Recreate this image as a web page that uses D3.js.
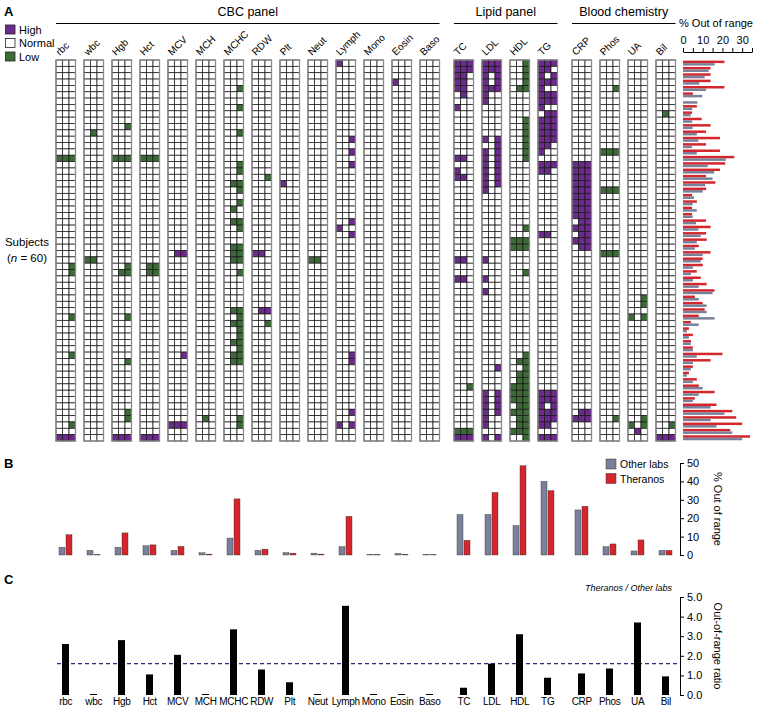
<!DOCTYPE html>
<html lang="en">
<head>
<meta charset="UTF-8">
<title>Out of range results</title>
<style>
  * { margin: 0; padding: 0; }
  html, body { overflow: hidden; background: #fff; }
  text { font-family: "Liberation Sans", Arial, sans-serif; }
</style>
</head>
<body>
<div id="chart"></div>
<script src="https://cdn.jsdelivr.net/npm/d3@7"></script>
<script>
// tests, in column order
const tests = ['rbc', 'wbc', 'Hgb', 'Hct', 'MCV', 'MCH', 'MCHC', 'RDW', 'Plt', 'Neut', 'Lymph', 'Mono', 'Eosin', 'Baso',
  'TC', 'LDL', 'HDL', 'TG', 'CRP', 'Phos', 'UA', 'Bil']
const panelNames = ['CBC panel', 'Lipid panel', 'Blood chemistry']
const panelFirst = [0, 14, 18]
const panelLast = [13, 17, 21]

// out-of-range cells per test: "row:abc" with one char per lab column (. normal, H high, L low)
const abnormal = [
  '15:LLL 32:..L 33:..L 40:..L 46:..L 57:..L 59:HHH',
  '11:.L. 31:LL.',
  '10:..L 15:LLL 32:..L 33:.LL 40:..L 47:..L 55:..L 56:..L 59:HHH',
  '15:LLL 32:.LL 33:.LL 59:HHH',
  '30:.HH 46:..H 57:HHH',
  '56:.L.',
  '4:..L 7:..L 11:..L 16:..L 17:..L 19:.LL 20:..L 22:..L 23:.L. 25:.LL 26:..L 29:.LL 30:.LL 31:.LL 33:..L 39:.LL 40:..L 41:.LL 42:..L 43:..L 44:.LL 45:..L 46:.LL 47:.LL 56:..L 57:..L',
  '18:..L 30:HH. 39:.HH 41:..L',
  '19:H..',
  '31:LL.',
  '0:H.. 12:..H 14:..H 16:..H 25:..H 26:H.. 27:..H 46:..H 47:..H 55:..H 57:H.H',
  '',
  '3:H..',
  '',
  '0:HHH 1:HHH 2:HH. 3:HH. 4:HH. 5:.H. 7:H.. 15:HH. 17:H.. 18:HH. 31:HH. 34:HH. 51:..L 58:LLL 59:HHH',
  '0:HHH 1:HHH 2:H.H 3:H.H 4:HHH 5:H.. 6:H.. 12:H.H 13:..H 14:H.H 15:H.H 16:H.H 17:H.H 18:H.H 19:H.H 20:H.. 31:H.. 34:H.. 36:H.. 48:..H 52:H.H 53:H.H 54:H.H 55:H.H 56:H.. 57:H.. 59:H.H',
  '0:..L 1:..L 2:..L 3:..L 4:.LL 9:..L 10:..L 11:..L 12:..L 13:..L 14:..L 15:..L 26:..L 28:LLL 29:LLL 33:..L 46:..L 47:.LL 48:..L 49:.LL 50:.LL 51:LLL 52:LLL 53:LLL 54:.LL 55:LLL 56:.LL 57:.LL 58:LLL 59:..L',
  '0:HHH 1:HH. 2:H.H 3:HHH 4:H.. 5:HHH 6:HHH 7:H.. 8:.HH 9:HHH 10:HHH 11:HHH 12:HHH 13:HH. 14:H.. 16:HHH 17:HH. 27:HH. 52:HHH 53:HHH 54:H.H 55:HHH 56:HHH 57:HH. 59:HHH',
  '16:HHH 17:HHH 18:HHH 19:HHH 20:HHH 21:HHH 22:HHH 23:HHH 24:HHH 25:.HH 26:HHH 27:.HH 28:HHH 29:.HH 55:.HH 56:HHH',
  '4:..L 14:LLL 20:LLL 30:LLL 56:..L',
  '37:..L 38:..L 40:L.L 56:..L 57:L.L 58:.H.',
  '8:.L. 57:..L 59:HHH'
]

// % out of range per subject (60 subjects, top to bottom)
const subjTheranos = [21, 14, 14, 14, 21, 5, 0, 7, 4.6, 9.5, 14, 11.7, 18.8, 11.7, 18.8, 26, 21.4, 18.8, 11.7, 16.4,
  11.7, 4.6, 7, 4.6, 4.6, 11.7, 14, 11.7, 12, 8, 14, 10, 10, 7, 9, 12, 16, 6, 10, 11,
  8, 4, 3, 5, 4, 5, 20, 14, 5, 3, 7, 8, 16, 6, 17, 25, 27, 30, 24, 34]
const subjOther = [16, 13, 11, 8.3, 11.7, 9.8, 7.3, 4.7, 3.9, 4.6, 4.9, 7, 7.8, 4.6, 7, 21.7, 12.5, 15.8, 15, 11.2,
  10, 5.6, 4.9, 7, 4.9, 6.6, 7.8, 9, 7, 6, 10, 9, 5, 4, 5, 8, 15, 8, 12, 12,
  16, 8, 2, 3, 4, 5, 7, 5, 4, 2, 5, 10, 8, 5, 14, 21, 14, 17, 25, 30]

// panel B: % out of range per test
const otherPct = [4.2, 2.5, 4.2, 5, 2.5, 1.2, 9.2, 2.5, 1.3, 1, 4.5, 0.3, 0.8, 0.3, 22, 22, 16, 40, 24.5, 4.5, 2.2, 2.5]
const theranosPct = [11, 0.3, 12, 5.5, 4.7, 0.5, 30.5, 3.2, 1, 0.5, 21, 0.3, 0.4, 0.2, 8, 34, 48.5, 35, 26.5, 6, 8.2, 2.5]

// panel C: Theranos / other labs ratio
const ratio = [2.6, 0, 2.8, 1.05, 2.05, 0, 3.35, 1.3, 0.65, 0, 4.55, 0, 0, 0, 0.37, 1.6, 3.1, 0.88, 1.1, 1.35, 3.7, 0.95]
const refRatio = 1.6

const colors = { H: '#6b2a8c', L: '#3d6b37', N: '#fff' }
const red = '#d4262c'
const grey = '#79809a'

function drawChart() {
  const svg = d3.select('#chart')
    .append('svg')
    .attr('width', 769)
    .attr('height', 712)

  const groupOf = i => i < 14 ? 0 : i < 18 ? 1 : 2
  const colX = i => 56 + i * 28 + groupOf(i) * 6
  const cellW = 6.5
  const nRows = 60

  const y = d3.scaleBand().domain(d3.range(nRows)).range([60, 441])

  // parse abnormal cells
  const state = tests.map((t, ti) => {
    const m = d3.range(nRows).map(() => ['N', 'N', 'N'])
    abnormal[ti].split(' ').filter(s => s).forEach(s => {
      const [r, p] = s.split(':')
      p.split('').forEach((c, k) => { if (c !== '.') m[+r][k] = c })
    })
    return m
  })

  const cells = []
  tests.forEach((t, ti) => {
    state[ti].forEach((row, r) => row.forEach((v, k) => cells.push({ ti, r, k, v })))
  })

  // panel letters
  svg.selectAll('text.letter')
    .data([['A', 16], ['B', 468], ['C', 584]])
    .join('text')
    .attr('class', 'letter')
    .attr('x', 4)
    .attr('y', d => d[1])
    .attr('font-size', 13)
    .attr('font-weight', 'bold')
    .text(d => d[0])

  // legend
  const legend = svg.append('g')
  const legItems = [['High', 'H'], ['Normal', 'N'], ['Low', 'L']]
  legend.selectAll('rect')
    .data(legItems)
    .join('rect')
    .attr('x', 5.5)
    .attr('y', (d, i) => 25 + i * 13.5)
    .attr('width', 9.5)
    .attr('height', 9)
    .attr('fill', d => colors[d[1]])
    .attr('stroke', '#222')
    .attr('stroke-width', 0.8)
  legend.selectAll('text')
    .data(legItems)
    .join('text')
    .attr('x', 19)
    .attr('y', (d, i) => 33.5 + i * 13.5)
    .attr('font-size', 11)
    .text(d => d[0])

  // panel headers
  const heads = svg.append('g')
  heads.selectAll('text')
    .data(panelNames)
    .join('text')
    .attr('x', (d, i) => (colX(panelFirst[i]) + colX(panelLast[i]) + cellW * 3) / 2)
    .attr('y', 16)
    .attr('text-anchor', 'middle')
    .attr('font-size', 12.5)
    .text(d => d)
  heads.selectAll('line')
    .data(panelNames)
    .join('line')
    .attr('x1', (d, i) => colX(panelFirst[i]))
    .attr('x2', (d, i) => colX(panelLast[i]) + cellW * 3)
    .attr('y1', 23.5)
    .attr('y2', 23.5)
    .attr('stroke', '#000')
    .attr('stroke-width', 1.2)

  // rotated test names
  svg.append('g').selectAll('text')
    .data(tests)
    .join('text')
    .attr('transform', (d, i) => 'translate(' + (colX(i) + 4) + ',56) rotate(315)')
    .attr('font-size', 10)
    .text(d => d)

  // subjects label
  svg.append('text')
    .attr('x', 27).attr('y', 246)
    .attr('text-anchor', 'middle')
    .attr('font-size', 11.5)
    .text('Subjects')
  const nl = svg.append('text')
    .attr('x', 27).attr('y', 262)
    .attr('text-anchor', 'middle')
    .attr('font-size', 11.5)
  nl.append('tspan').text('(')
  nl.append('tspan').attr('font-style', 'italic').text('n')
  nl.append('tspan').text(' = 60)')

  // grid
  const grid = svg.append('g')
  grid.selectAll('rect.cell')
    .data(cells)
    .join('rect')
    .attr('class', 'cell')
    .attr('x', d => colX(d.ti) + d.k * cellW)
    .attr('y', d => y(d.r))
    .attr('width', cellW)
    .attr('height', y.bandwidth())
    .attr('fill', d => colors[d.v])
    .attr('stroke', '#1a1a1a')
    .attr('stroke-width', 0.75)
  grid.selectAll('rect.frame')
    .data(tests)
    .join('rect')
    .attr('class', 'frame')
    .attr('x', (d, i) => colX(i))
    .attr('y', y(0))
    .attr('width', cellW * 3)
    .attr('height', y.bandwidth() * nRows)
    .attr('fill', 'none')
    .attr('stroke', '#8c8c8c')
    .attr('stroke-width', 1.3)

  // per subject bars
  const xS = d3.scaleLinear().domain([0, 35]).range([683, 752])
  const subj = svg.append('g')
  subj.append('text')
    .attr('x', 716).attr('y', 27)
    .attr('text-anchor', 'middle')
    .attr('font-size', 11)
    .text('% Out of range')
  subj.append('g')
    .attr('transform', 'translate(0,52)')
    .call(d3.axisTop(xS).tickValues(d3.range(0, 36, 5)).tickFormat(d => d % 10 === 0 ? d : '').tickSize(4).tickSizeOuter(0))
    .call(g => g.selectAll('text').attr('font-size', 11).attr('fill', '#000').attr('dy', '-0.1em'))
    .call(g => g.selectAll('line,path').attr('stroke', '#000'))
  subj.selectAll('rect.th')
    .data(subjTheranos)
    .join('rect')
    .attr('class', 'th')
    .attr('x', xS(0))
    .attr('y', (d, i) => y(i) + 0.6)
    .attr('width', d => xS(d) - xS(0))
    .attr('height', 2.5)
    .attr('fill', red)
  subj.selectAll('rect.ot')
    .data(subjOther)
    .join('rect')
    .attr('class', 'ot')
    .attr('x', xS(0))
    .attr('y', (d, i) => y(i) + 3.1)
    .attr('width', d => xS(d) - xS(0))
    .attr('height', 2.5)
    .attr('fill', grey)

  // panel B
  const yB = d3.scaleLinear().domain([0, 50]).range([555, 463])
  const pB = svg.append('g')
  pB.selectAll('rect.ob')
    .data(otherPct)
    .join('rect')
    .attr('class', 'ob')
    .attr('x', (d, i) => colX(i) + 3)
    .attr('y', d => yB(d))
    .attr('width', 6)
    .attr('height', d => yB(0) - yB(d))
    .attr('fill', grey)
    .attr('stroke', '#333')
    .attr('stroke-width', 0.4)
  pB.selectAll('rect.tb')
    .data(theranosPct)
    .join('rect')
    .attr('class', 'tb')
    .attr('x', (d, i) => colX(i) + 10)
    .attr('y', d => yB(d))
    .attr('width', 6)
    .attr('height', d => yB(0) - yB(d))
    .attr('fill', red)
    .attr('stroke', '#333')
    .attr('stroke-width', 0.4)
  pB.append('g')
    .attr('transform', 'translate(680,0)')
    .call(d3.axisRight(yB).tickValues(d3.range(0, 51, 10)).tickSize(4).tickSizeOuter(0))
    .call(g => g.selectAll('text').attr('font-size', 11).attr('fill', '#000'))
    .call(g => g.selectAll('line,path').attr('stroke', '#000'))
  pB.append('text')
    .attr('transform', `translate(714,${yB(25)}) rotate(90)`)
    .attr('text-anchor', 'middle')
    .attr('font-size', 11)
    .text('% Out of range')
  const legB = [['Other labs', grey], ['Theranos', red]]
  pB.selectAll('rect.leg')
    .data(legB)
    .join('rect')
    .attr('class', 'leg')
    .attr('x', 606)
    .attr('y', (d, i) => 459 + i * 14.5)
    .attr('width', 10)
    .attr('height', 10)
    .attr('fill', d => d[1])
    .attr('stroke', '#333')
    .attr('stroke-width', 0.5)
  pB.selectAll('text.leg')
    .data(legB)
    .join('text')
    .attr('class', 'leg')
    .attr('x', 620)
    .attr('y', (d, i) => 468 + i * 14.5)
    .attr('font-size', 10.5)
    .text(d => d[0])

  // panel C
  const yC = d3.scaleLinear().domain([0, 5]).range([695, 597])
  const pC = svg.append('g')
  pC.append('line')
    .attr('x1', 57).attr('x2', 678)
    .attr('y1', yC(refRatio)).attr('y2', yC(refRatio))
    .attr('stroke', '#2c2f80')
    .attr('stroke-width', 1.1)
    .attr('stroke-dasharray', '4,3')
  pC.selectAll('rect')
    .data(ratio)
    .join('rect')
    .attr('x', (d, i) => colX(i) + 6)
    .attr('y', d => Math.min(yC(d), yC(0) - 1))
    .attr('width', 7)
    .attr('height', d => Math.max(yC(0) - yC(d), 1))
    .attr('fill', '#000')
  pC.append('g')
    .attr('transform', 'translate(680,0)')
    .call(d3.axisRight(yC).tickValues(d3.range(0, 6)).tickSize(4).tickSizeOuter(0))
    .call(g => g.selectAll('text').attr('font-size', 11).attr('fill', '#000'))
    .call(g => g.selectAll('line,path').attr('stroke', '#000'))
  pC.append('text')
    .attr('transform', `translate(714,${yC(2.5)}) rotate(90)`)
    .attr('text-anchor', 'middle')
    .attr('font-size', 11)
    .text('Out-of-range ratio')
  pC.append('text')
    .attr('x', 672).attr('y', 591)
    .attr('text-anchor', 'end')
    .attr('font-size', 9)
    .attr('font-style', 'italic')
    .text('Theranos / Other labs')
  pC.selectAll('text.name')
    .data(tests)
    .join('text')
    .attr('class', 'name')
    .attr('x', (d, i) => colX(i) + cellW * 1.5)
    .attr('y', 705)
    .attr('text-anchor', 'middle')
    .attr('font-size', 10)
    .attr('letter-spacing', -0.3)
    .text(d => d)
}

drawChart()
</script>
</body>
</html>
